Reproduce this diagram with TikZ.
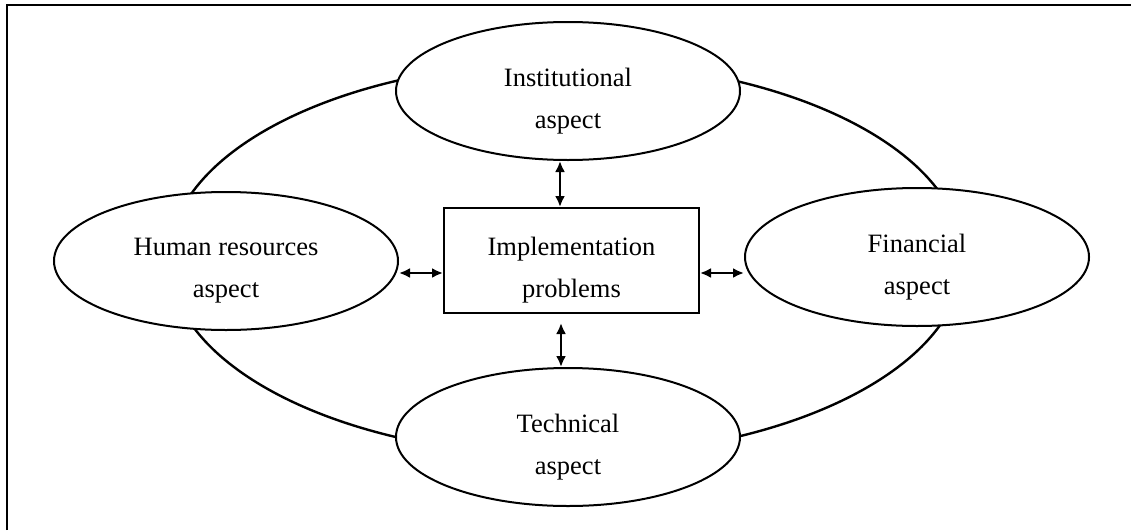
\documentclass[tikz,border=0pt]{standalone}
\usepackage{fontspec}
\setmainfont{Liberation Serif}
\usetikzlibrary{shapes.geometric,arrows.meta}
\begin{document}
\begin{tikzpicture}[x=1pt,y=-1pt,
  aspectbox/.style={ellipse,draw,line width=2pt,fill=white,minimum width=344pt,minimum height=138pt,inner sep=0pt},
  ringbox/.style={ellipse,draw,line width=2.4pt,minimum width=794pt,minimum height=394pt,inner sep=0pt},
  implbox/.style={draw,line width=2pt,fill=white,minimum width=255pt,minimum height=105pt,inner sep=0pt},
  lbl/.style={align=center,font=\fontsize{26.5}{42}\selectfont,inner sep=0pt},
  biarrow/.style={{Latex[length=11pt,width=10pt]}-{Latex[length=11pt,width=10pt]},line width=2.2pt},
  framing/.style={line width=2.4pt}
  ]
\useasboundingbox (0,0) rectangle (1131,530);
\draw[framing] (7,530) -- (7,5) -- (1131,5);
\node[ringbox] (ring) at (566,259) {};
\node[aspectbox] (inst) at (568,91) {};
\node[aspectbox] (hum) at (226,261) {};
\node[aspectbox] (fin) at (917,257) {};
\node[aspectbox] (tech) at (568,437) {};
\node[implbox] (impl) at (571.5,260.5) {};
\node[lbl] (instT) at ([yshift=-10pt]inst.center) {Institutional\\aspect};
\node[lbl] (humT) at ([yshift=-10pt]hum.center) {Human resources\\aspect};
\node[lbl] (finT) at ([yshift=-10pt]fin.center) {Financial\\aspect};
\node[lbl] (techT) at ([yshift=-10pt]tech.center) {Technical\\aspect};
\node[lbl] (implT) at ([yshift=-10pt]impl.center) {Implementation\\problems};
\coordinate (tA) at (560,0);
\coordinate (bA) at (561,0);
\coordinate (sY) at (0,273);
\draw[biarrow] (inst.south -| tA) -- (impl.north -| tA);
\draw[biarrow,shorten <=9pt] (impl.south -| bA) -- (tech.north -| bA);
\draw[biarrow] (hum.east |- sY) -- (impl.west |- sY);
\draw[biarrow] (impl.east |- sY) -- (fin.west |- sY);
\end{tikzpicture}
\end{document}
